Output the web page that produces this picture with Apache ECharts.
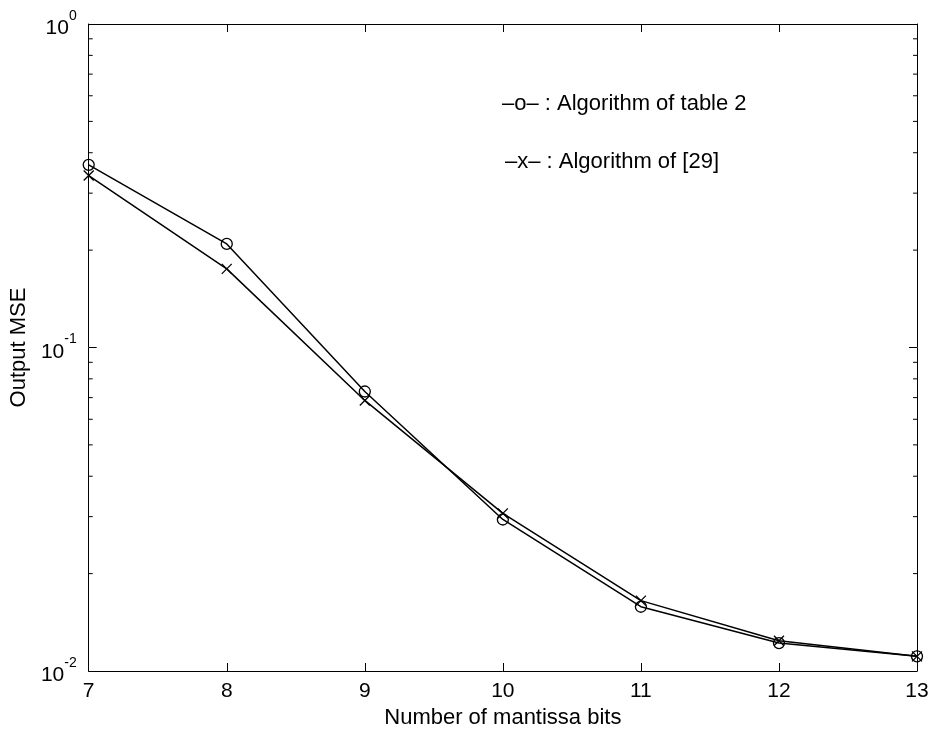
<!DOCTYPE html>
<html>
<head>
<meta charset="utf-8">
<script src="https://cdn.jsdelivr.net/npm/echarts@6/dist/echarts.min.js"></script>
<style>
html,body{margin:0;padding:0;background:#fff;}
#chart{width:933px;height:734px;}
</style>
</head>
<body>
<div id="chart"></div>
<script>
// ---- data ----
const mantissaBits = [7, 8, 9, 10, 11, 12, 13];
const mseTable2 = [0.367, 0.209, 0.0731, 0.0294, 0.0158, 0.0122, 0.0111];
const mseRef29  = [0.340, 0.175, 0.0686, 0.0307, 0.0165, 0.0124, 0.0111];
const xTicks = [7, 8, 9, 10, 11, 12, 13];
const yMinorTicks = [0.02, 0.03, 0.04, 0.05, 0.06, 0.07, 0.08, 0.09,
                     0.2, 0.3, 0.4, 0.5, 0.6, 0.7, 0.8, 0.9];
const legendTexts = ['\u2013o\u2013 : Algorithm of table 2', '\u2013x\u2013 : Algorithm of [29]'];
const seriesNames = ['Algorithm of table 2', 'Algorithm of [29]'];

const FONT = 'Liberation Sans, Arial, Helvetica, sans-serif';
const xMin = xTicks[0], xMax = xTicks[xTicks.length - 1];

const chart = echarts.init(document.getElementById('chart'), null, {renderer: 'canvas'});

const crossPath = 'path://M0,0L10,10M10,0L0,10';

const option = {
  backgroundColor: '#fff',
  animation: false,
  grid: {left: 85, right: 16, top: 24, bottom: 57, containLabel: false},
  xAxis: [{
    type: 'value', min: xMin, max: xMax, interval: 1, position: 'bottom',
    name: 'Number of mantissa bits', nameLocation: 'middle', nameGap: 36,
    nameTextStyle: {fontFamily: FONT, fontSize: 22, color: '#000'},
    axisLine: {show: true, onZero: false, lineStyle: {color: '#000', width: 1}},
    axisTick: {show: true, inside: true, length: 8, lineStyle: {color: '#000'}},
    axisLabel: {fontFamily: FONT, fontSize: 21, color: '#000', margin: 10},
    splitLine: {show: false}
  }, {
    type: 'value', min: xMin, max: xMax, interval: 1, position: 'top',
    axisLine: {show: true, onZero: false, lineStyle: {color: '#000', width: 1}},
    axisTick: {show: true, inside: true, length: 8, lineStyle: {color: '#000'}},
    axisLabel: {show: false}, splitLine: {show: false}
  }],
  yAxis: [{
    type: 'log', logBase: 10, min: 0.01, max: 1, position: 'left',
    name: 'Output MSE', nameLocation: 'middle', nameGap: 52, nameRotate: 90,
    nameTextStyle: {fontFamily: FONT, fontSize: 22, color: '#000'},
    axisLine: {show: true, onZero: false, lineStyle: {color: '#000', width: 1}},
    axisTick: {show: true, inside: true, length: 8, lineStyle: {color: '#000'}},
    axisLabel: {
      margin: 12, color: '#000',
      formatter: function (v) {
        const e = Math.round(Math.log10(v));
        return '{b|10}{s|' + (e < 0 ? '-' + (-e) : e) + '}';
      },
      rich: {
        b: {fontFamily: FONT, fontSize: 21, color: '#000', verticalAlign: 'bottom', lineHeight: 30},
        s: {fontFamily: FONT, fontSize: 14, color: '#000', verticalAlign: 'top', lineHeight: 16}
      }
    },
    splitLine: {show: false}
  }, {
    type: 'log', logBase: 10, min: 0.01, max: 1, position: 'right',
    axisLine: {show: true, onZero: false, lineStyle: {color: '#000', width: 1}},
    axisTick: {show: true, inside: true, length: 8, lineStyle: {color: '#000'}},
    axisLabel: {show: false}, splitLine: {show: false}
  }],
  series: [{
    name: seriesNames[0], type: 'line',
    data: mantissaBits.map((x, i) => [x, mseTable2[i]]),
    symbol: 'circle', symbolSize: 11, showAllSymbol: true,
    lineStyle: {color: '#000', width: 1.5},
    itemStyle: {color: 'rgba(0,0,0,0)', borderColor: '#000', borderWidth: 1.3},
    z: 3
  }, {
    name: seriesNames[1], type: 'line',
    data: mantissaBits.map((x, i) => [x, mseRef29[i]]),
    symbol: crossPath, symbolSize: 10, showAllSymbol: true,
    lineStyle: {color: '#000', width: 1.5},
    itemStyle: {color: '#000', borderColor: '#000', borderWidth: 1.3},
    z: 3
  }, {
    type: 'custom', name: 'minorTicks', silent: true, clip: false,
    data: yMinorTicks.map(v => [xMin, v]),
    encode: {x: 0, y: 1},
    renderItem: function (params, api) {
      const v = api.value(1);
      const pl = api.coord([xMin, v]);
      const pr = api.coord([xMax, v]);
      const st = {stroke: '#000', lineWidth: 1};
      return {
        type: 'group',
        children: [
          {type: 'line', shape: {x1: pl[0], y1: pl[1], x2: pl[0] + 4, y2: pl[1]}, style: st},
          {type: 'line', shape: {x1: pr[0] - 4, y1: pr[1], x2: pr[0], y2: pr[1]}, style: st}
        ]
      };
    },
    z: 4
  }],
  graphic: [{
    type: 'text', left: 502, top: 93,
    style: {text: legendTexts[0], font: '22px ' + FONT, fill: '#000'}
  }, {
    type: 'text', left: 505, top: 151,
    style: {text: legendTexts[1], font: '22px ' + FONT, fill: '#000'}
  }]
};
chart.setOption(option);
</script>
</body>
</html>
